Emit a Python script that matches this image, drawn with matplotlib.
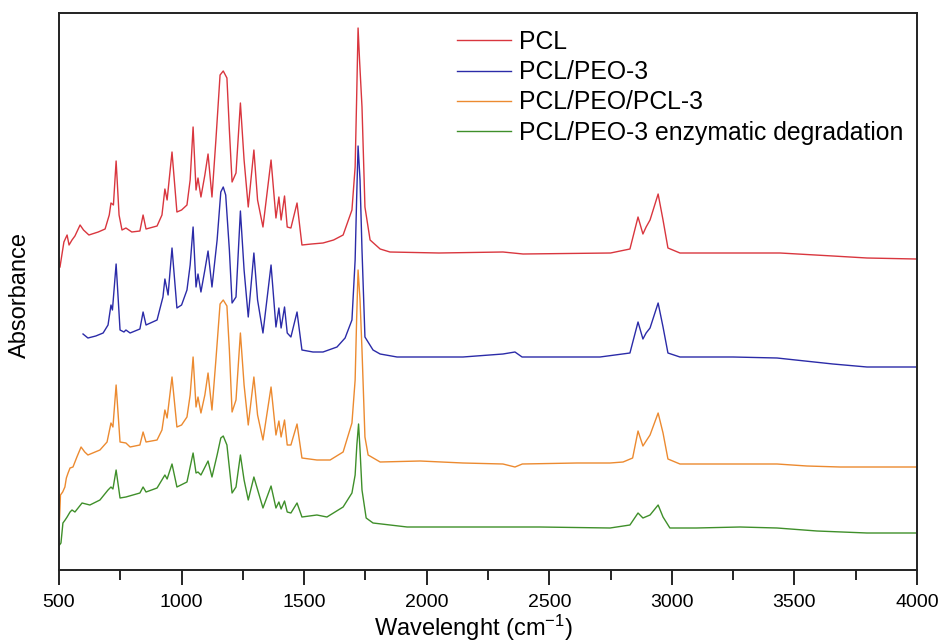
import numpy as np
import matplotlib
matplotlib.use("Agg")
import matplotlib.pyplot as plt

#---------------------------------------------
#data (wavenumber, absorbance a.u., stacked)
#---------------------------------------------
pcl_wn = [504, 520, 533, 541, 553, 565, 586, 600, 622, 660, 688, 705, 712, 722, 733, 745, 757, 773, 797,
          830, 843, 855, 900, 920, 932, 941, 961, 981, 1000, 1022, 1035, 1047, 1059, 1067, 1079, 1095, 1108,
          1124, 1140, 1157, 1170, 1185, 1195, 1206, 1222, 1240, 1255, 1272, 1295, 1310, 1332, 1365, 1385,
          1397, 1406, 1420, 1431, 1446, 1471, 1491, 1530, 1577, 1620, 1659, 1695, 1708, 1714, 1720, 1726,
          1736, 1748, 1769, 1810, 1850, 2050, 2311, 2393, 2750, 2829, 2862, 2882, 2895, 2911, 2944, 2964,
          2984, 3033, 3250, 3441, 3657, 3796, 3995]
pcl_abs = [3.03, 3.28, 3.35, 3.25, 3.30, 3.34, 3.45, 3.40, 3.35, 3.38, 3.41, 3.55, 3.67, 3.65, 4.09, 3.55,
           3.40, 3.42, 3.38, 3.39, 3.55, 3.41, 3.44, 3.55, 3.81, 3.70, 4.18, 3.58, 3.60, 3.65, 3.90, 4.43,
           3.80, 3.92, 3.73, 3.95, 4.16, 3.73, 4.30, 4.95, 4.99, 4.92, 4.40, 3.88, 3.97, 4.67, 4.10, 3.63,
           4.20, 3.70, 3.43, 4.10, 3.52, 3.73, 3.50, 3.74, 3.43, 3.42, 3.67, 3.25, 3.26, 3.27, 3.30, 3.35,
           3.60, 4.03, 4.70, 5.42, 5.10, 4.63, 3.63, 3.30, 3.21, 3.18, 3.17, 3.18, 3.16, 3.17, 3.21, 3.53,
           3.36, 3.43, 3.50, 3.76, 3.50, 3.22, 3.17, 3.17, 3.17, 3.14, 3.12, 3.11]

peo_wn = [598, 618, 650, 680, 700, 712, 718, 733, 749, 765, 773, 790, 830, 843, 855, 900, 924, 932, 945,
          961, 981, 1000, 1022, 1035, 1047, 1059, 1067, 1079, 1095, 1108, 1124, 1145, 1160, 1170, 1180,
          1195, 1206, 1222, 1240, 1255, 1272, 1295, 1310, 1332, 1365, 1385, 1397, 1406, 1420, 1431, 1446,
          1471, 1491, 1536, 1577, 1634, 1667, 1695, 1708, 1714, 1720, 1728, 1736, 1748, 1781, 1810, 1879,
          2148, 2311, 2360, 2389, 2707, 2829, 2862, 2882, 2895, 2911, 2944, 2964, 2984, 3033, 3250, 3429,
          3657, 3796, 3995]
peo_abs = [2.36, 2.32, 2.34, 2.37, 2.45, 2.65, 2.60, 3.06, 2.40, 2.38, 2.40, 2.37, 2.41, 2.58, 2.45, 2.50,
           2.73, 2.91, 2.75, 3.22, 2.62, 2.65, 2.80, 3.05, 3.43, 2.83, 2.96, 2.78, 3.00, 3.19, 2.83, 3.30,
           3.78, 3.83, 3.75, 3.20, 2.67, 2.73, 3.59, 3.00, 2.53, 3.17, 2.70, 2.37, 3.05, 2.43, 2.62, 2.42,
           2.63, 2.37, 2.33, 2.58, 2.20, 2.18, 2.18, 2.23, 2.32, 2.50, 3.10, 3.70, 4.24, 3.90, 3.20, 2.33,
           2.20, 2.16, 2.13, 2.13, 2.16, 2.18, 2.13, 2.13, 2.17, 2.48, 2.31, 2.37, 2.42, 2.67, 2.43, 2.17,
           2.13, 2.13, 2.12, 2.06, 2.03, 2.03]

tri_wn = [502, 506, 515, 524, 530, 537, 545, 557, 573, 590, 605, 618, 667, 696, 712, 720, 733, 749, 773,
          790, 830, 843, 855, 900, 920, 932, 941, 961, 981, 1000, 1022, 1035, 1047, 1059, 1067, 1079, 1095,
          1108, 1124, 1140, 1157, 1170, 1185, 1195, 1206, 1222, 1240, 1255, 1272, 1295, 1310, 1332, 1365,
          1385, 1397, 1406, 1420, 1431, 1446, 1471, 1491, 1552, 1606, 1659, 1695, 1708, 1714, 1720, 1728,
          1736, 1748, 1761, 1810, 1973, 2148, 2311, 2360, 2390, 2613, 2748, 2801, 2840, 2862, 2882, 2895,
          2911, 2944, 2964, 2984, 3033, 3429, 3551, 3686, 3995]
tri_abs = [0.50, 0.75, 0.78, 0.83, 0.92, 0.97, 1.02, 1.03, 1.13, 1.23, 1.18, 1.15, 1.20, 1.28, 1.47, 1.43,
           1.85, 1.28, 1.27, 1.23, 1.25, 1.38, 1.28, 1.30, 1.40, 1.60, 1.52, 1.93, 1.43, 1.45, 1.53, 1.75,
           2.13, 1.63, 1.73, 1.57, 1.75, 1.97, 1.60, 2.10, 2.66, 2.70, 2.64, 2.20, 1.58, 1.70, 2.37, 1.85,
           1.45, 1.93, 1.55, 1.30, 1.83, 1.35, 1.49, 1.33, 1.50, 1.25, 1.25, 1.46, 1.12, 1.10, 1.10, 1.18,
           1.47, 1.90, 2.50, 3.00, 2.70, 2.20, 1.33, 1.15, 1.08, 1.09, 1.07, 1.06, 1.03, 1.06, 1.07, 1.07,
           1.08, 1.12, 1.39, 1.24, 1.29, 1.35, 1.57, 1.37, 1.11, 1.06, 1.06, 1.04, 1.03, 1.03]

deg_wn = [502, 508, 516, 525, 533, 545, 553, 565, 594, 626, 667, 700, 712, 720, 733, 749, 773, 830, 843,
          855, 900, 932, 941, 961, 981, 1022, 1047, 1059, 1067, 1079, 1108, 1124, 1145, 1160, 1170, 1185,
          1206, 1222, 1240, 1255, 1272, 1295, 1332, 1365, 1385, 1397, 1406, 1420, 1431, 1446, 1471, 1491,
          1552, 1593, 1659, 1695, 1708, 1715, 1722, 1728, 1736, 1753, 1781, 1920, 2189, 2462, 2748, 2829,
          2862, 2882, 2911, 2944, 2964, 2992, 3100, 3278, 3429, 3592, 3796, 3995]
deg_abs = [0.25, 0.27, 0.47, 0.50, 0.53, 0.58, 0.60, 0.58, 0.67, 0.65, 0.70, 0.80, 0.83, 0.81, 1.00, 0.72,
           0.73, 0.77, 0.83, 0.78, 0.82, 0.95, 0.91, 1.06, 0.83, 0.88, 1.17, 0.97, 0.98, 0.95, 1.09, 0.93,
           1.15, 1.32, 1.34, 1.25, 0.77, 0.83, 1.15, 0.90, 0.70, 0.93, 0.62, 0.84, 0.62, 0.68, 0.61, 0.69,
           0.58, 0.57, 0.67, 0.53, 0.55, 0.53, 0.63, 0.77, 0.95, 1.25, 1.46, 1.20, 0.80, 0.52, 0.47, 0.43,
           0.43, 0.43, 0.42, 0.45, 0.57, 0.52, 0.55, 0.65, 0.53, 0.42, 0.42, 0.43, 0.42, 0.39, 0.37, 0.37]

labels = ['PCL', 'PCL/PEO-3', 'PCL/PEO/PCL-3', 'PCL/PEO-3 enzymatic degradation']
colors = ['#d9363e', '#2b2ba8', '#ec8a30', '#3f8f2a']

#---------------------------------------------
#plot
#---------------------------------------------
plt.rcParams['font.family'] = ['Liberation Sans', 'DejaVu Sans']
plt.rcParams['mathtext.fontset'] = 'custom'
plt.rcParams['mathtext.rm'] = 'Liberation Sans'
plt.rcParams['mathtext.it'] = 'Liberation Sans'

fig = plt.figure(figsize=(9.39, 6.43), dpi=100)
ax = fig.add_axes([59/939, 73/643, 858/939, 557/643])

series = [(pcl_wn, pcl_abs), (peo_wn, peo_abs), (tri_wn, tri_abs), (deg_wn, deg_abs)]
for (wn, ab), lab, col in zip(series, labels, colors):
    ax.plot(wn, ab, color=col, lw=1.0, label=lab)

ax.set_xlim(500, 4000)
ax.set_ylim(0, 5.57)
ax.set_xticks(np.arange(500, 4001, 500))
ax.set_xticks(np.arange(750, 4000, 500), minor=True)
ax.set_yticks([])
ax.tick_params(axis='x', which='major', direction='out', length=11, width=1.2, labelsize=14, pad=6)
ax.tick_params(axis='x', which='minor', direction='out', length=7, width=1.2)
for sp in ax.spines.values():
    sp.set_linewidth(1.4)
    sp.set_color('#222222')

ax.set_xlabel('Wavelenght (cm$^{-1}$)', fontsize=17)
ax.xaxis.set_label_coords((473-59)/858, (570-613)/557)
ax.set_ylabel('Absorbance', fontsize=17)
ax.yaxis.set_label_coords((31-59)/858, (570-295)/557)

ax.legend(loc='upper left', bbox_to_anchor=((457-59)/858, (570-30)/557), frameon=False,
          fontsize=17.8, handlelength=2.2, handletextpad=0.3, labelspacing=0.25,
          borderpad=0, borderaxespad=0)

fig.savefig('out.png', dpi=100)
